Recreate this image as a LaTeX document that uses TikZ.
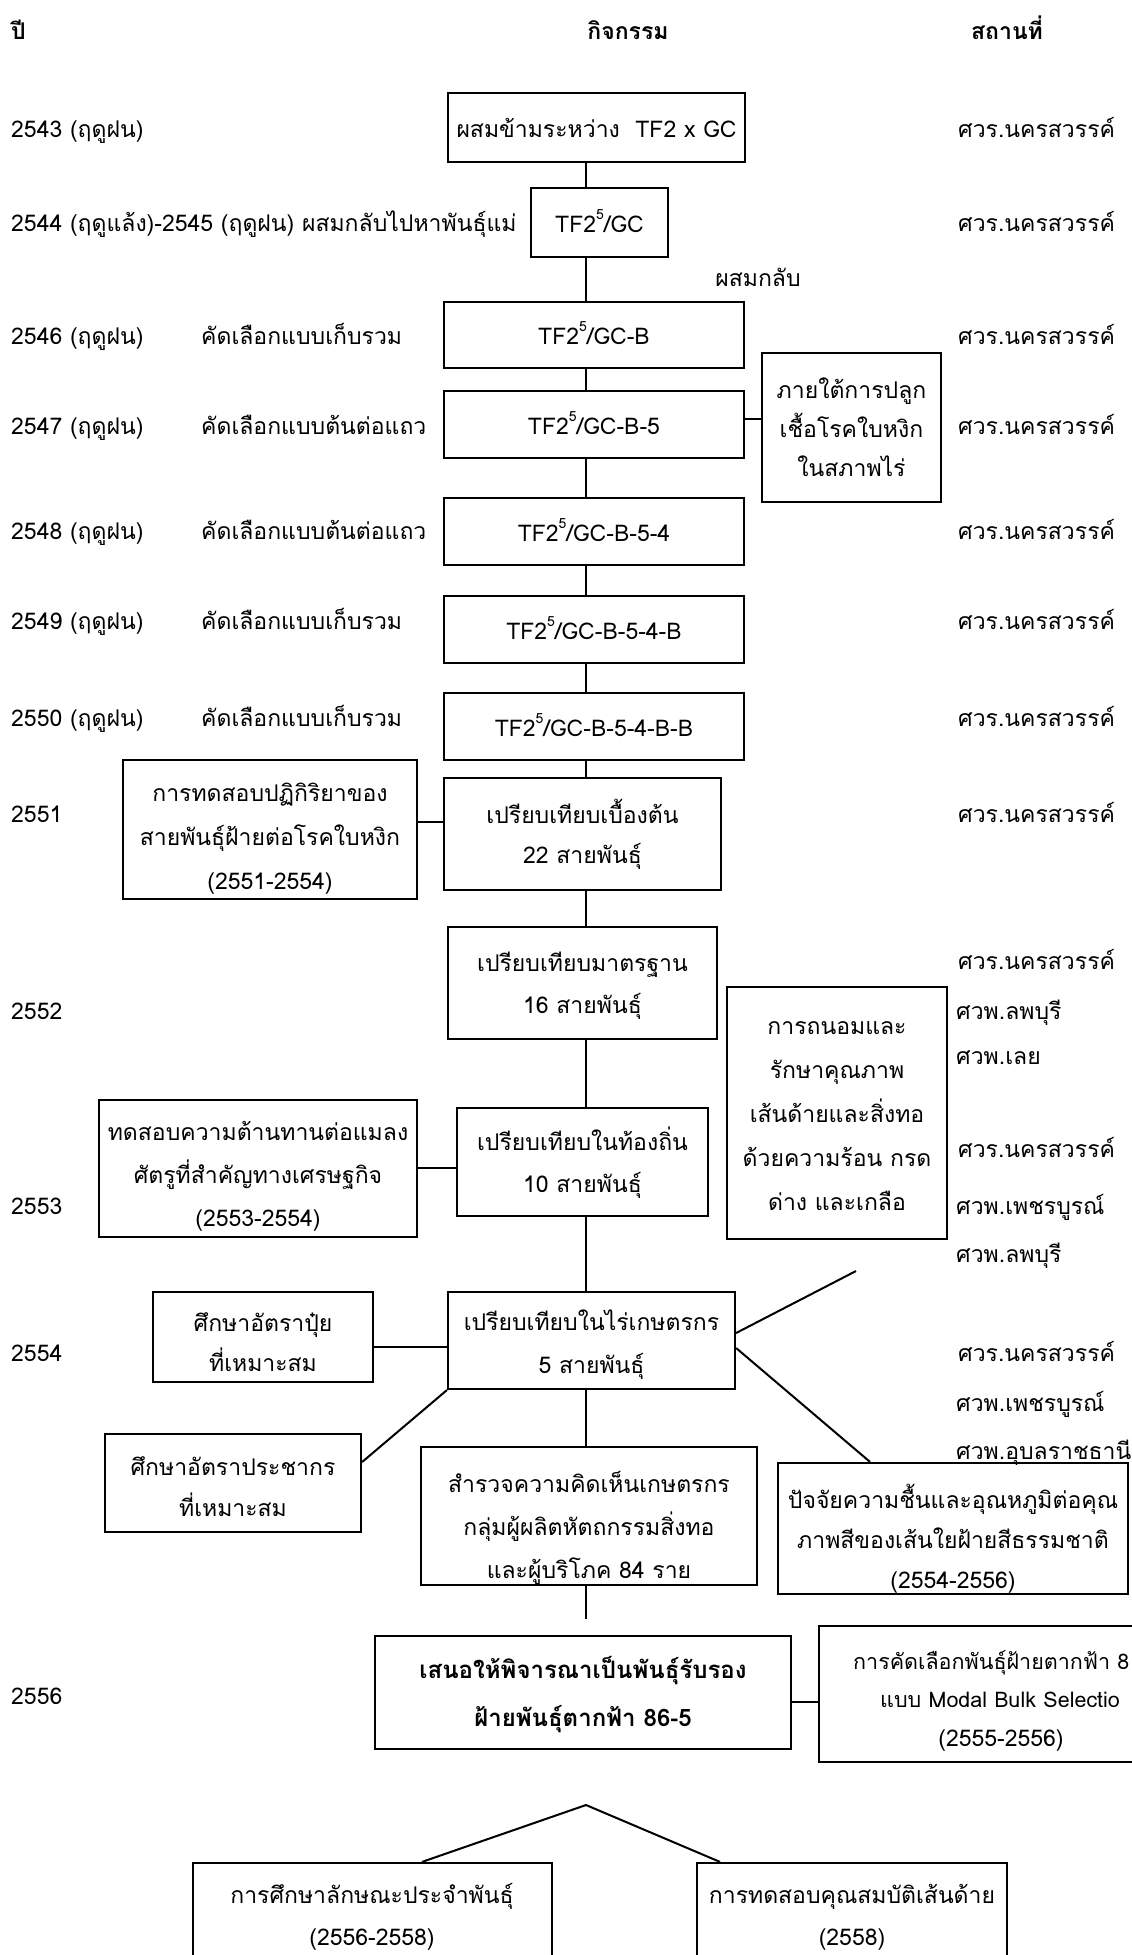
\documentclass[tikz,border=0pt]{standalone}
\usepackage{fontspec}
\setmainfont[Script=Thai]{Loma}
\newcommand\supv{\raisebox{0.55em}{\fontsize{14}{14}\selectfont 5}}
\begin{document}
\begin{tikzpicture}[x=1pt,y=-1pt,
  every node/.style={font=\fontsize{23}{42}\selectfont},
  one/.style={text height=21pt, text depth=2pt},
  ml/.style={text height=#1, text depth=2pt},
  box/.style={draw, line width=2.2pt, inner sep=0pt, align=center},
  sz/.style 2 args={minimum width=#1, minimum height=#2},
  conn/.style={line width=1.6pt},
  diag/.style={line width=2pt},
  lbl/.style={inner sep=0pt, anchor=west, one},
  txt/.style={inner sep=0pt, align=center},
  hdr/.style={inner sep=0pt, one, font=\bfseries\fontsize{23}{26}\selectfont}]
\fill[white] (0,0) rectangle (1132,1955);
\useasboundingbox (0,0) rectangle (1132,1955);

% headers
\node[hdr, anchor=west] (hyear) at (11,30) {ปี};
\node[hdr] (hact) at (628,30) {กิจกรรม};
\node[hdr] (hloc) at (1007,30) {สถานที่};

% year labels
\node[lbl] (y43) at (11,128) {2543 (ฤดูฝน)};
\node[lbl] (y44) at (11,222) {2544 (ฤดูแล้ง)-2545 (ฤดูฝน) ผสมกลับไปหาพันธุ์แม่};
\node[lbl] (y46) at (11,335) {2546 (ฤดูฝน)};
\node[lbl] (a46) at (201,335) {คัดเลือกแบบเก็บรวม};
\node[lbl] (y47) at (11,425) {2547 (ฤดูฝน)};
\node[lbl] (a47) at (201,425) {คัดเลือกแบบต้นต่อแถว};
\node[lbl] (y48) at (11,530) {2548 (ฤดูฝน)};
\node[lbl] (a48) at (201,530) {คัดเลือกแบบต้นต่อแถว};
\node[lbl] (y49) at (11,620) {2549 (ฤดูฝน)};
\node[lbl] (a49) at (201,620) {คัดเลือกแบบเก็บรวม};
\node[lbl] (y50) at (11,717) {2550 (ฤดูฝน)};
\node[lbl] (a50) at (201,717) {คัดเลือกแบบเก็บรวม};
\node[lbl] (y51) at (11,813) {2551};
\node[lbl] (y52) at (11,1010) {2552};
\node[lbl] (y53) at (11,1205) {2553};
\node[lbl] (y54) at (11,1352) {2554};
\node[lbl] (y56) at (11,1695) {2556};

% locations
\node[lbl] (l1) at (958,128) {ศวร.นครสวรรค์};
\node[lbl] (l2) at (958,222) {ศวร.นครสวรรค์};
\node[lbl] (l3) at (958,335) {ศวร.นครสวรรค์};
\node[lbl] (l4) at (958,425) {ศวร.นครสวรรค์};
\node[lbl] (l5) at (958,530) {ศวร.นครสวรรค์};
\node[lbl] (l6) at (958,620) {ศวร.นครสวรรค์};
\node[lbl] (l7) at (958,717) {ศวร.นครสวรรค์};
\node[lbl] (l8) at (958,813) {ศวร.นครสวรรค์};
\node[lbl] (l9) at (958,960) {ศวร.นครสวรรค์};
\node[lbl] (l10) at (956,1010) {ศวพ.ลพบุรี};
\node[lbl] (l11) at (956,1055) {ศวพ.เลย};
\node[lbl] (l12) at (958,1148) {ศวร.นครสวรรค์};
\node[lbl] (l13) at (956,1205) {ศวพ.เพชรบูรณ์};
\node[lbl] (l14) at (956,1253) {ศวพ.ลพบุรี};
\node[lbl] (l15) at (958,1352) {ศวร.นครสวรรค์};
\node[lbl] (l16) at (956,1402) {ศวพ.เพชรบูรณ์};
\node[lbl] (l17) at (956,1450) {ศวพ.อุบลราชธานี};

\node[txt, one] (bc) at (758,277) {ผสมกลับ};

% main column boxes
\node[box, one, sz={297pt}{69pt}] (b1) at (596.5,127.5) {ผสมข้ามระหว่าง\ \ TF2 x GC};
\node[box, one, sz={137pt}{69pt}] (b2) at (599.5,222.5) {TF2\supv/GC};
\node[box, one, sz={300pt}{66pt}] (b3) at (594,335) {TF2\supv/GC-B};
\node[box, one, sz={300pt}{67pt}] (b4) at (594,424.5) {TF2\supv/GC-B-5};
\node[box, one, sz={300pt}{67pt}] (b5) at (594,531.5) {TF2\supv/GC-B-5-4};
\node[box, one, sz={300pt}{67pt}] (b6) at (594,629.5) {TF2\supv/GC-B-5-4-B};
\node[box, one, sz={300pt}{67pt}] (b7) at (594,726.5) {TF2\supv/GC-B-5-4-B-B};
\node[box, ml=61pt, sz={277pt}{112pt}, font=\fontsize{23}{40}\selectfont] (b8) at (582.5,834) {เปรียบเทียบเบื้องต้น\\22 สายพันธุ์};
\node[box, ml=63pt, sz={269pt}{112pt}] (b9) at (582.5,983) {เปรียบเทียบมาตรฐาน\\16 สายพันธุ์};
\node[box, ml=63pt, sz={251pt}{108pt}] (b10) at (582.5,1162) {เปรียบเทียบในท้องถิ่น\\10 สายพันธุ์};
\node[box, ml=67pt, sz={287pt}{97pt}, font=\fontsize{23}{43}\selectfont] (b11) at (591.5,1340.5) {เปรียบเทียบในไร่เกษตรกร\\5 สายพันธุ์};

% side boxes
\node[box, ml=99pt, sz={179pt}{149pt}, font=\fontsize{23}{39}\selectfont] (s1) at (851.5,427.5) {ภายใต้การปลูก\\เชื้อโรคใบหงิก\\ในสภาพไร่};
\node[box, ml=197pt, sz={220pt}{252pt}, font=\fontsize{23}{44}\selectfont] (r1) at (837,1113) {การถนอมและ\\รักษาคุณภาพ\\เส้นด้ายและสิ่งทอ\\ด้วยความร้อน กรด\\ด่าง และเกลือ};
\node[box, ml=71pt, sz={220pt}{90pt}, font=\fontsize{23}{40}\selectfont] (l3b) at (263,1337) {ศึกษาอัตราปุ๋ย\\ที่เหมาะสม};
\node[box, ml=68pt, sz={256pt}{98pt}, font=\fontsize{23}{41}\selectfont] (l4b) at (233,1483) {ศึกษาอัตราประชากร\\ที่เหมาะสม};

% boxes with offset or clipped text
\node[box, sz={318pt}{137pt}] (l2b) at (258,1168.5) {};
\node[txt, font=\fontsize{23}{43}\selectfont] (l2t) at (258,1176) {ทดสอบความต้านทานต่อแมลง\\ศัตรูที่สำคัญทางเศรษฐกิจ\\(2553-2554)};

\begin{scope}
\clip (123,760) rectangle (417,899);
\node[txt, font=\fontsize{23}{44}\selectfont] (l1t) at (270,839) {การทดสอบปฏิกิริยาของ\\สายพันธุ์ฝ้ายต่อโรคใบหงิก\\(2551-2554)};
\end{scope}
\node[box, sz={294pt}{139pt}] (l1b) at (270,829.5) {};

\begin{scope}
\clip (421,1447) rectangle (757,1585);
\node[txt, font=\fontsize{23}{43}\selectfont] (m1t) at (589,1528) {สำรวจความคิดเห็นเกษตรกร\\กลุ่มผู้ผลิตหัตถกรรมสิ่งทอ\\และผู้บริโภค 84 ราย};
\end{scope}
\node[box, sz={336pt}{138pt}] (m1) at (589,1516) {};

\begin{scope}
\clip (778,1463) rectangle (1128,1594);
\node[txt, font=\fontsize{23}{40}\selectfont] (r2t) at (953,1539) {ปัจจัยความชื้นและอุณหภูมิต่อคุณ\\ภาพสีของเส้นใยฝ้ายสีธรรมชาติ\\(2554-2556)};
\end{scope}
\node[box, sz={350pt}{131pt}] (r2) at (953,1528.5) {};

% final boxes
\node[box, ml=69pt, sz={416pt}{113pt}, font=\bfseries\fontsize{24}{48}\selectfont] (f) at (583,1692.5) {เสนอให้พิจารณาเป็นพันธุ์รับรอง\\ฝ้ายพันธุ์ตากฟ้า 86-5};
\node[box, sz={365pt}{136pt}] (r3) at (1001.5,1694) {};
\node[lbl, font=\fontsize{21.5}{40}\selectfont] (r3a) at (853,1660) {การคัดเลือกพันธุ์ฝ้ายตากฟ้า 8};
\node[lbl, font=\fontsize{21.5}{40}\selectfont] (r3b) at (880,1698) {แบบ Modal Bulk Selectio};
\node[txt, one] (r3c) at (1001,1737) {(2555-2556)};

\node[box, sz={359pt}{132pt}] (z1) at (372.5,1929) {};
\node[txt] (z1t) at (372,1917) {การศึกษาลักษณะประจำพันธุ์\\(2556-2558)};
\node[box, sz={310pt}{132pt}] (z2) at (852,1929) {};
\node[txt] (z2t) at (852,1917) {การทดสอบคุณสมบัติเส้นด้าย\\(2558)};

% connectors
\coordinate (tr) at (586,0);
\foreach \a/\b in {b1/b2,b2/b3,b3/b4,b4/b5,b5/b6,b6/b7,b7/b8,b8/b9,b9/b10,b10/b11,b11/m1}
  \draw[conn] (\a.south -| tr) -- (\b.north -| tr);
\coordinate (mend) at (586,1619);
\draw[conn] (m1.south -| tr) -- (mend);
\draw[conn] (b4.east |- 0,419) -- (s1.west |- 0,419);
\draw[conn] (l1b.east |- 0,822) -- (b8.west |- 0,822);
\draw[conn] (l2b.east |- 0,1168) -- (b10.west |- 0,1168);
\draw[conn] (l3b.east |- 0,1347) -- (b11.west |- 0,1347);
\draw[conn] (f.east |- 0,1702) -- (r3.west |- 0,1702);
\coordinate (dfree) at (856,1271);
\draw[diag] (b11.east |- 0,1333) -- (dfree);
\draw[diag] (b11.south west) -- (l4b.east |- 0,1462);
\draw[diag] (b11.east |- 0,1348) -- (r2.north -| 870,0);
\coordinate (apex) at (586,1805);
\draw[diag] (z1.north -| 422,0) -- (apex) -- (z2.north -| 720,0);
\end{tikzpicture}
\end{document}
